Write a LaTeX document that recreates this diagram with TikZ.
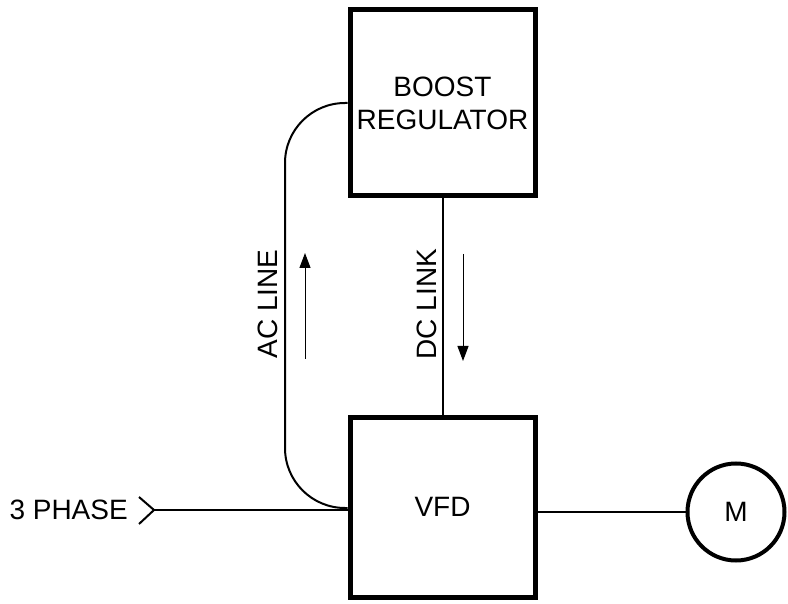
\documentclass[tikz,border=0pt]{standalone}
\usepackage{fontspec}
\setmainfont{Liberation Sans}
\usetikzlibrary{arrows.meta,calc}
\begin{document}
\begin{tikzpicture}[x=1pt,y=-1pt,
  every node/.style={font=\fontsize{28}{33}\selectfont, inner sep=0pt},
  blockbox/.style={draw, line width=5pt, minimum width=185pt, align=center},
  wire/.style={line width=2pt},
  flow/.style={line width=1pt, -{Triangle[length=15pt,width=11pt]}},
  motorc/.style={draw, circle, line width=4pt, minimum size=97pt}]
\useasboundingbox (0,0) rectangle (788,604);
\node[blockbox, minimum height=186pt] (boost) at (442.5,103) {BOOST\\REGULATOR};
\node[blockbox, minimum height=180pt] (vfd) at (442.5,507) {VFD};
\node[motorc] (motor) at (736,512) {M};
\node[anchor=east] (phase) at (128,510) {3 PHASE};
\coordinate (tip) at (154,510);
\draw[wire] ($(tip)+(-15,-13)$) -- (tip) -- ($(tip)+(-15,14)$);
\draw[wire] (tip) -- (tip -| vfd.west);
\draw[wire] (vfd.east |- motor.west) -- (motor.west);
\draw[wire] (boost.south) -- (vfd.north);
\draw[wire, rounded corners=60pt] (boost.west) -- (285,103) -- (285,508) -- (vfd.west |- 0,508);
\node[rotate=90] (acl) at (268,304) {AC LINE};
\node[rotate=90] (dcl) at (427,304) {DC LINK};
\coordinate (a1s) at (305,359);
\coordinate (a1e) at (305,253);
\coordinate (a2s) at (463,254);
\coordinate (a2e) at (463,361);
\draw[flow] (a1s) -- (a1e);
\draw[flow] (a2s) -- (a2e);
\end{tikzpicture}
\end{document}
